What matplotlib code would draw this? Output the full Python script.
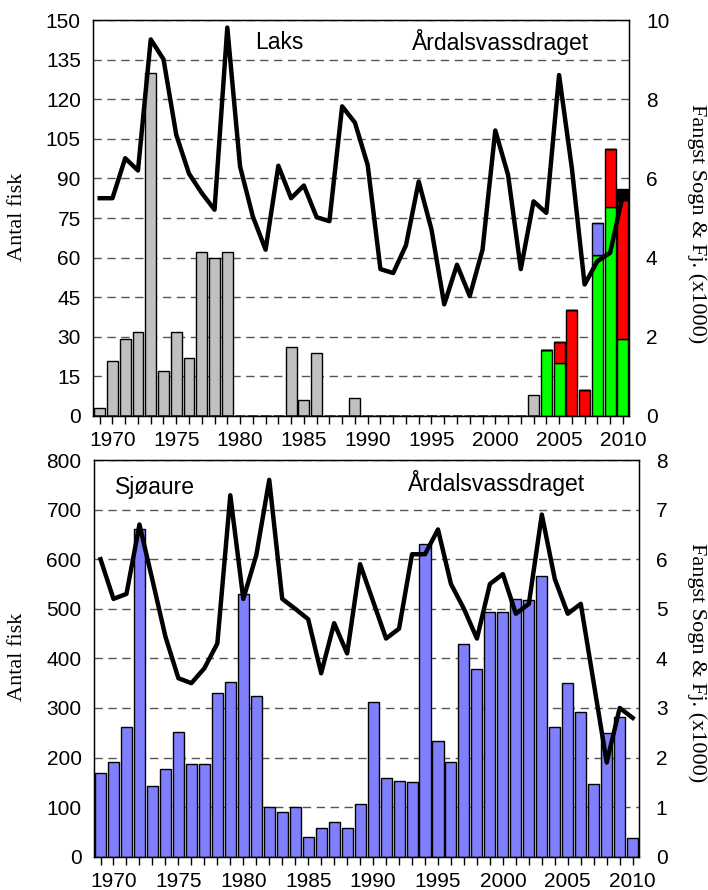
import numpy as np
import matplotlib
matplotlib.use("Agg")
import matplotlib.pyplot as plt

years = list(range(1969, 2011))

# Laks (top panel), number of fish, grey bars 1969-2003
laks_grey = [3, 21, 29, 32, 130, 17, 32, 22, 62, 60, 62, 0, 0, 0, 0, 26, 6, 24, 0, 0,
             7, 0, 0, 0, 0, 0, 0, 0, 0, 0, 0, 0, 0, 0, 8, 0, 0, 0, 0, 0, 0, 0]
# stacked coloured bars 2004-2010
laks_green = [0]*35 + [25, 20, 0, 0, 61, 79, 29]
laks_red = [0]*35 + [0, 8, 40, 10, 0, 22, 53]
laks_blue = [0]*35 + [0, 0, 0, 0, 12, 0, 0]
laks_black = [0]*35 + [0, 0, 0, 0, 0, 0, 4]
# catch Sogn & Fjordane (x1000)
laks_fangst = [5.5, 5.5, 6.51, 6.2, 9.51, 9.01, 7.1, 6.12, 5.63, 5.21, 9.81, 6.3, 5.04,
               4.2, 6.32, 5.5, 5.82, 5.02, 4.92, 7.82, 7.41, 6.34, 3.71, 3.61, 4.31, 5.92,
               4.71, 2.82, 3.82, 3.03, 4.2, 7.21, 6.09, 3.71, 5.42, 5.13, 8.61, 6.26, 3.32,
               3.91, 4.12, 5.59]

# Sjøaure (bottom panel)
sjo_fisk = [168, 192, 262, 660, 143, 177, 251, 187, 187, 331, 353, 530, 325, 100, 90,
            100, 40, 58, 70, 57, 107, 313, 159, 153, 150, 631, 234, 192, 430, 378, 493,
            494, 520, 518, 567, 261, 351, 292, 147, 250, 282, 37]
sjo_fangst = [6.0, 5.2, 5.3, 6.7, 5.58, 4.44, 3.6, 3.5, 3.8, 4.3, 7.29, 5.2, 6.08, 7.6,
              5.2, 5.0, 4.79, 3.7, 4.71, 4.1, 5.9, 5.15, 4.4, 4.6, 6.1, 6.1, 6.6, 5.5,
              5.0, 4.4, 5.5, 5.7, 4.9, 5.1, 6.9, 5.6, 4.9, 5.1, 3.5, 1.9, 3.0, 2.8]

sans = ["Liberation Sans", "DejaVu Sans"]
serif = ["Liberation Serif", "DejaVu Serif"]
plt.rcParams['font.family'] = sans

fig = plt.figure(figsize=(7.08, 8.90), dpi=100)
ax1 = fig.add_axes([0.1318, 0.5326, 0.757, 0.4449])
ax3 = fig.add_axes([0.1328, 0.0374, 0.770, 0.4457])

x = np.array(years)
w = 0.85
bar_kw = dict(width=w, edgecolor="black", linewidth=1.0, zorder=2)


def style(ax, ymax, step, rmax, rstep):
    ax.set_xlim(1968.5, 2010.5)
    ax.set_ylim(0, ymax)
    ax.set_yticks(np.arange(0, ymax + 1, step))
    ax.yaxis.grid(True, linestyle=(0, (6, 4)), color="#555555", linewidth=1.0, zorder=0)
    ax.set_axisbelow(True)
    ax.set_xticks(years, minor=True)
    ax.set_xticks(range(1970, 2011, 5))
    ax.tick_params(axis="x", which="both", direction="out", length=6, width=1,
                   labelsize=15, pad=5)
    ax.tick_params(axis="y", length=0, labelsize=15, pad=9)
    for s in ax.spines.values():
        s.set_linewidth(1.0)
    ax2 = ax.twinx()
    ax2.set_ylim(0, rmax)
    ax2.set_yticks(np.arange(0, rmax + 0.01, rstep))
    ax2.tick_params(axis="y", length=0, labelsize=15, pad=12)
    return ax2


ax2 = style(ax1, 150, 15, 10, 2)
ax1.bar(x, laks_grey, color="#c0c0c0", **bar_kw)
ax1.bar(x, laks_green, color="#00ff00", **bar_kw)
b = np.array(laks_green)
ax1.bar(x, laks_red, bottom=b, color="#ff0000", **bar_kw)
b = b + np.array(laks_red)
ax1.bar(x, laks_blue, bottom=b, color="#8080ff", **bar_kw)
b = b + np.array(laks_blue)
ax1.bar(x, laks_black, bottom=b, color="black", **bar_kw)
ax2.plot(x, laks_fangst, color="black", linewidth=3.2, zorder=3)
ax1.text(1981.2, 141.5, "Laks", fontsize=16.5, va="center", ha="left")
ax1.text(2000.4, 141.5, "Årdalsvassdraget", fontsize=16.5, va="center", ha="center")

ax4 = style(ax3, 800, 100, 8, 1)
ax3.bar(x, sjo_fisk, color="#8080ff", **bar_kw)
ax4.plot(x, sjo_fangst, color="black", linewidth=3.2, zorder=3)
ax3.text(1970.15, 745, "Sjøaure", fontsize=16.5, va="center", ha="left")
ax3.text(1999.5, 753, "Årdalsvassdraget", fontsize=16.5, va="center", ha="center")

for yc in (217, 657):
    fig.text(18 / 708, 1 - yc / 890, "Antal fisk", family=serif, fontsize=16,
             rotation=90, ha="center", va="center")
for yc in (224, 663):
    fig.text(697 / 708, 1 - yc / 890, "Fangst Sogn & Fj. (x1000)", family=serif,
             fontsize=16, rotation=270, ha="center", va="center")

fig.savefig("out.png", dpi=100)
